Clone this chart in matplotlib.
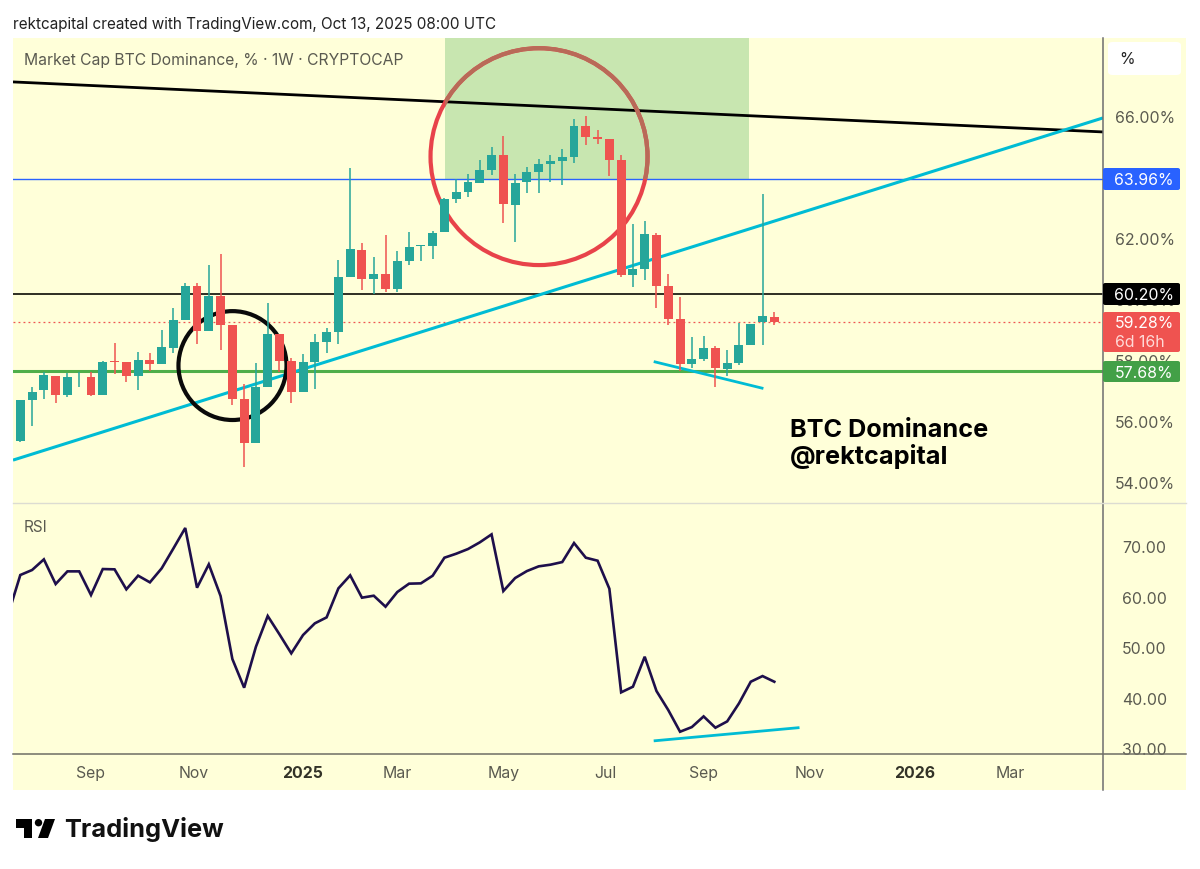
import matplotlib
matplotlib.use("Agg")
import matplotlib.pyplot as plt
from matplotlib.patches import Ellipse, Rectangle, FancyBboxPatch, Polygon
from matplotlib.transforms import offset_copy

W, H = 1200, 869
BG = "#FFFFD9"
TEAL = "#26A69A"
RED = "#EF5350"

# weekly candles
opens = [55.39,56.73,57.05,57.51,56.87,57.47,57.46,56.89,58.00,57.98,57.51,58.04,57.89,58.43,59.34,60.45,58.98,60.13,59.19,56.76,55.32,57.14,58.87,58.01,56.98,57.98,58.61,58.96,60.75,61.64,60.70,60.84,60.37,61.27,61.77,61.77,62.22,63.31,63.54,63.85,64.26,64.76,63.13,63.86,64.21,64.45,64.55,64.68,65.70,65.35,65.29,64.59,60.83,61.03,62.13,60.47,59.38,57.90,58.07,58.44,57.74,57.93,58.51,59.27,59.45]
highs = [56.72,57.16,57.65,57.51,57.59,57.65,57.65,58.01,58.58,57.98,58.31,58.25,59.02,59.73,60.55,60.55,61.14,61.51,59.19,57.24,57.92,59.91,58.87,58.09,58.22,58.87,59.07,61.31,64.34,61.88,61.42,62.13,61.62,62.22,61.79,62.27,63.36,63.98,64.13,64.59,65.03,65.38,64.13,64.37,64.63,64.74,64.94,65.93,66.03,65.57,65.29,64.75,62.49,62.60,62.21,60.84,60.11,58.79,58.81,58.50,58.36,59.25,59.22,63.48,59.61]
lows = [55.33,55.87,56.74,56.61,56.83,57.16,56.86,56.87,57.57,57.31,57.05,57.67,57.89,58.25,59.34,58.57,58.98,58.35,56.56,54.54,55.32,57.14,57.65,56.61,56.98,57.07,58.27,58.57,60.75,60.33,60.19,60.27,60.27,61.16,61.29,61.35,62.22,63.19,63.37,63.85,64.10,62.51,61.89,63.52,63.50,63.88,63.77,64.50,65.08,65.11,64.06,60.74,60.42,60.66,59.75,59.19,57.68,57.76,58.01,57.16,57.52,57.87,58.51,58.51,59.19]
closes = [56.72,56.97,57.53,56.89,57.46,57.49,56.90,57.98,57.98,57.51,58.04,57.89,58.46,59.34,60.45,58.98,60.13,59.19,56.76,55.32,57.14,58.87,58.01,56.98,57.96,58.62,58.95,60.74,61.66,60.70,60.84,60.37,61.27,61.74,61.79,62.20,63.32,63.54,63.86,64.27,64.76,63.15,63.84,64.20,64.46,64.56,64.69,65.72,65.35,65.28,64.59,60.82,61.03,62.16,60.47,59.38,57.91,58.07,58.44,57.76,57.94,58.51,59.22,59.47,59.28]

rsi_values = [56.79,64.37,65.36,67.46,62.59,65.09,65.09,60.42,65.55,65.49,61.54,64.24,62.92,65.69,69.64,73.66,61.86,66.48,60.22,47.77,42.10,50.20,56.27,52.64,48.89,52.51,54.82,56.00,61.73,64.30,59.89,60.28,58.11,61.01,62.66,62.72,64.23,67.79,68.58,69.50,70.82,72.40,61.20,63.77,65.15,66.08,66.41,66.93,70.69,67.79,67.20,61.66,41.18,42.30,48.22,41.44,37.68,33.40,34.32,36.43,34.19,35.44,39.00,43.28,44.40,43.28]

price_ticks = [54, 56, 58, 60, 62, 66]
rsi_ticks = [30, 40, 50, 60, 70]
month_labels = ["Sep", "Nov", "2025", "Mar", "May", "Jul", "Sep", "Nov", "2026", "Mar"]
month_pos = [6.0, 14.75, 24.0, 32.0, 41.0, 49.7, 58.0, 67.0, 75.9, 84.0]

resistance_level = 63.96
mid_level = 60.20
last_price = 59.28
support_level = 57.68

weeks = list(range(len(opens)))
rsi_weeks = [w - 1 for w in range(len(rsi_values))]

plt.rcParams["font.family"] = ["Inter", "DejaVu Sans"]
fig = plt.figure(figsize=(W / 100, H / 100), dpi=100, facecolor="white")

def box(x0, y0, x1, y1):
    return [x0 / W, 1 - y1 / H, (x1 - x0) / W, (y1 - y0) / H]

def fx(x):
    return x / W

def fy(y):
    return 1 - y / H

def ty(y):
    # Inter sits a little high when centred
    return fy(y + 1.8)

# whole pale panel
fig.patches.append(Rectangle((fx(13), fy(790)), (1186 - 13) / W, (790 - 38) / H,
                             transform=fig.transFigure, fc=BG, ec="none", zorder=-5))

ax = fig.add_axes(box(13, 38, 1103, 503))
ar = fig.add_axes(box(13, 503, 1103, 754))
for a in (ax, ar):
    a.patch.set_alpha(0)
    a.set_xlim(-0.62, 91.9)
    a.set_xticks([])
    a.set_yticks([])
    for s in a.spines.values():
        s.set_visible(False)
ax.set_ylim(53.344, 68.59)
ar.set_ylim(29.0, 78.6)

# drawings below the candles
zone = Rectangle((36.05, resistance_level), 25.81, 68.59 - resistance_level,
                 fc="#C8E6B0", ec="none", zorder=1)
ax.add_patch(zone)
ax.axhline(resistance_level, color="#2962FF", lw=1.0, zorder=2)
ax.axhline(mid_level, color="#1E1E14", lw=1.3, zorder=2)
ax.axhline(support_level, color="#4FAE4A", lw=2.2, zorder=2)
ax.axhline(last_price, color=RED, lw=0.9, ls=(0, (1.5, 2.5)), zorder=2)
ax.plot([-0.62, 91.9], [67.15, 65.51], color="black", lw=2.0, zorder=3, solid_capstyle="butt")
ax.plot([-0.62, 91.9], [54.75, 65.97], color="#00BCD4", lw=2.2, zorder=3, solid_capstyle="butt")
ax.plot([53.88, 62.96], [57.97, 57.11], color="#00BCD4", lw=2.0, zorder=3)
ax.add_patch(Ellipse((18.01, 57.85), 9.17, 3.57, fc="none", ec="#0A0A0A", lw=3.0, zorder=3))
ax.add_patch(Ellipse((44.03, 64.70), 18.42, 7.11, fc="none", ec="#E8434A", lw=3.0, zorder=3))
over_zone = Ellipse((44.03, 64.70), 18.42, 7.11, fc="none", ec="#B96A58", lw=3.0, zorder=3.1)
ax.add_patch(over_zone)
over_zone.set_clip_path(zone)

# candles
for w, o, h, l, c in zip(weeks, opens, highs, lows, closes):
    col = TEAL if c >= o else RED
    ax.vlines(w, l, h, color=col, lw=1.1, zorder=4)
    ax.bar(w, max(abs(c - o), 0.02), bottom=min(o, c), width=0.76, color=col, lw=0, zorder=5)

# RSI
ar.plot(rsi_weeks, rsi_values, color="#1E0F4B", lw=1.9, solid_joinstyle="miter", zorder=4, clip_on=True)
ar.plot([53.88, 66.02], [31.62, 34.19], color="#00BCD4", lw=2.0, zorder=3)

# pane furniture
for (x0, y0, x1, y1, col, lw) in [(1103, 38, 1103, 790, "#6E6E6E", 1.1),
                                  (13, 503, 1186, 503, "#DCDCD2", 1.0),
                                  (13, 754, 1186, 754, "#6E6E64", 1.1)]:
    fig.add_artist(plt.Line2D([fx(x0), fx(x1)], [fy(y0), fy(y1)], color=col, lw=lw, zorder=6))

GREY = "#5A5A50"
price_tf = offset_copy(ax.get_yaxis_transform(), fig=fig, x=-1.0, y=-2.0, units="dots")
rsi_tf = offset_copy(ar.get_yaxis_transform(), fig=fig, x=-0.5, y=-2.0, units="dots")
for t in price_ticks:
    ax.text(1.0393, t, f"{t:.2f}%", transform=price_tf, ha="center", va="center",
            fontsize=11.4, color=GREY, clip_on=False, zorder=6)
for t in rsi_ticks:
    ar.text(1.0385, t, f"{t:.2f}", transform=rsi_tf, ha="center", va="center",
            fontsize=11.4, color=GREY, clip_on=False)
for lab, pos in zip(month_labels, month_pos):
    bold = lab.isdigit()
    ar.text(pos, -19.5 / 251, lab, transform=ar.get_xaxis_transform(), ha="center", va="center",
            fontsize=11.4, color="#333328" if bold else GREY, fontweight="bold" if bold else "normal",
            clip_on=False)

# price labels
def price_tag(y0, y1, col):
    fig.add_artist(FancyBboxPatch((fx(1103), fy(y1)), 77 / W, (y1 - y0) / H, transform=fig.transFigure,
                                  boxstyle="round,pad=0,rounding_size=0.002", fc=col, ec="none", zorder=7))

for y0, y1, col, txt in [(168, 190, "#2962FF", f"{resistance_level:.2f}%"),
                         (283, 305, "#000000", f"{mid_level:.2f}%"),
                         (361, 382, "#43A047", f"{support_level:.2f}%")]:
    price_tag(y0, y1, col)
    fig.text(fx(1144), ty((y0 + y1) / 2), txt, color="white", fontsize=11.4, ha="center", va="center", zorder=8)
price_tag(312, 352, RED)
fig.text(fx(1144), ty(322), f"{last_price:.2f}%", color="white", fontsize=11.4, ha="center", va="center", zorder=8)
fig.text(fx(1115), ty(341), "6d 16h", color="#FFD9D7", fontsize=11.4, ha="left", va="center", zorder=8)

# % button
fig.add_artist(FancyBboxPatch((fx(1108), fy(75)), 73 / W, 33 / H, transform=fig.transFigure,
                              boxstyle="round,pad=0,rounding_size=0.004", fc="white", ec="none", zorder=7))
fig.text(fx(1127), ty(58), "%", color="#222222", fontsize=11.4, ha="center", va="center", zorder=8)

# texts
fig.text(fx(13), ty(23), "rektcapital created with TradingView.com, Oct 13, 2025 08:00 UTC",
         fontsize=11.0, color="#222222", ha="left", va="center")
fig.text(fx(24), ty(59), "Market Cap BTC Dominance, % · 1W · CRYPTOCAP",
         fontsize=11.3, color=GREY, ha="left", va="center", zorder=7)
fig.text(fx(24), ty(526), "RSI", fontsize=11.0, color=GREY, ha="left", va="center", zorder=7)
fig.text(fx(790), ty(429), "BTC Dominance", fontsize=18.2, fontweight="bold", color="black", ha="left", va="center", zorder=7)
fig.text(fx(790), ty(455), "@rektcapital", fontsize=18.2, fontweight="bold", color="black", ha="left", va="center", zorder=7)

# logo
fig.add_artist(Polygon([(fx(16), fy(819)), (fx(32), fy(819)), (fx(32), fy(838)), (fx(24), fy(838)),
                        (fx(24), fy(828)), (fx(16), fy(828))], closed=True, transform=fig.transFigure,
                       fc="black", ec="none"))
fig.add_artist(Polygon([(fx(45), fy(819)), (fx(55), fy(819)), (fx(48), fy(838)), (fx(38), fy(838))], closed=True,
                       transform=fig.transFigure, fc="black", ec="none"))
fig.add_artist(Ellipse((fx(38.5), fy(822.7)), 7.4 / W, 7.4 / H, transform=fig.transFigure, fc="black", ec="none"))
fig.text(fx(64), fy(829.5), "TradingView", fontsize=18.3, fontweight="bold", color="#111111", ha="left", va="center")

fig.savefig("out.png", dpi=100, facecolor="white")
